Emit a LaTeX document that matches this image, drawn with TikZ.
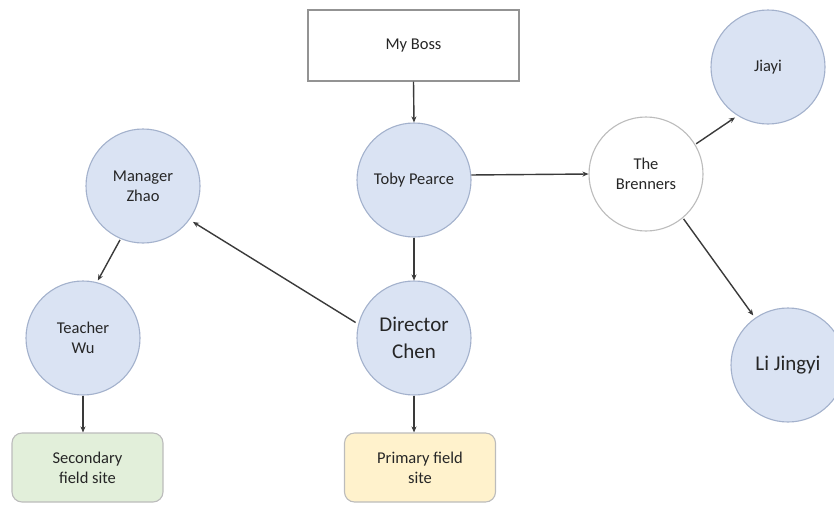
\documentclass[tikz,border=0pt]{standalone}
\usepackage{fontspec}
\setmainfont{Carlito}
\usetikzlibrary{arrows.meta}
\definecolor{cfill}{HTML}{DAE3F3}
\definecolor{cline}{HTML}{A3B1CC}
\definecolor{gline}{HTML}{BCBCBC}
\definecolor{txt}{HTML}{262626}
\definecolor{greenfill}{HTML}{E2EFDA}
\definecolor{yellowfill}{HTML}{FFF2CC}
\definecolor{arr}{HTML}{3A3A3A}
\tikzset{
  person/.style={circle, draw=cline, fill=cfill, line width=1.1pt, minimum size=114pt, inner sep=0pt, align=center, text=txt, font=\fontsize{16.5}{20}\selectfont},
  bigtext/.style={font=\fontsize{21}{27}\selectfont},
  whiteperson/.style={person, draw=gline, fill=white},
  bossbox/.style={rectangle, draw=gray!85, fill=white, line width=1.1pt, minimum width=211pt, minimum height=71pt, text=txt, font=\fontsize{16.5}{20}\selectfont},
  sitebox/.style={rectangle, rounded corners=10pt, draw=gline, line width=1.1pt, minimum width=151pt, minimum height=69pt, align=center, text=txt, font=\fontsize{16.5}{20}\selectfont},
  link/.style={draw=arr, line width=1.4pt, -{Stealth[length=6pt,width=5pt]}},
}
\begin{document}
\begin{tikzpicture}[x=1pt,y=-1pt]
\useasboundingbox (0,0) rectangle (834,504);
\begin{scope}
\clip (0,0) rectangle (834,504);
\node[bossbox] (boss) at (413.5,45.5) {My Boss};
\node[person] (toby) at (414,180) {Toby Pearce};
\node[person, bigtext] (chen) at (414,338) {Director\\Chen};
\node[person] (zhao) at (143,186) {Manager\\Zhao};
\node[person] (wu) at (83,338) {Teacher\\Wu};
\node[whiteperson] (bren) at (646,174) {The\\Brenners};
\node[person] (jiayi) at (768,67) {Jiayi};
\node[person, bigtext] (li) at (788,365) {Li Jingyi};
\node[sitebox, fill=greenfill] (sec) at (87.5,467.5) {Secondary\\field site};
\node[sitebox, fill=yellowfill] (prim) at (420,467.5) {Primary field\\site};
\end{scope}
\draw[link] (boss.south) -- (toby.north);
\draw[link] (toby.south) -- (chen.north);
\draw[link] (toby.5) -- (bren.west);
\draw[link, shorten <=3pt, shorten >=4pt] (chen.166) -- (zhao.-36);
\draw[link, shorten <=1pt, shorten >=2pt] (zhao.247) -- (wu.76);
\draw[link] (wu.south) -- (wu.south |- sec.north);
\draw[link] (chen.south) -- (chen.south |- prim.north);
\draw[link, shorten <=1pt, shorten >=3pt] (bren.31) -- (jiayi.238);
\draw[link, shorten <=1pt, shorten >=3pt] (bren.310) -- (li.125);
\end{tikzpicture}
\end{document}
